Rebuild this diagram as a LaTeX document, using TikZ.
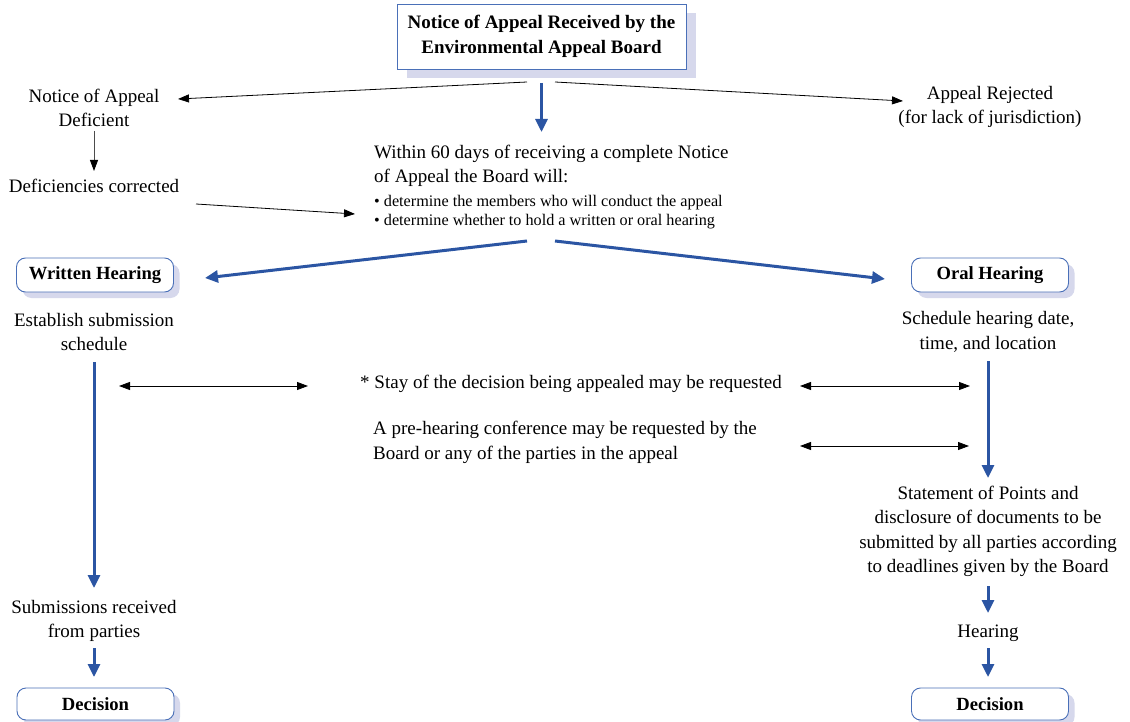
\documentclass[tikz,border=0pt]{standalone}
\usepackage{fontspec}
\setmainfont{Liberation Serif}
\usetikzlibrary{arrows.meta,shadows}
\definecolor{bblue}{HTML}{2B55A3}
\definecolor{bline}{HTML}{4A70B8}
\definecolor{shade}{HTML}{D6D8EC}
\begin{document}
\begin{tikzpicture}[x=1pt,y=-1pt,
  txt/.style={align=center,font=\fontsize{19}{24.4}\selectfont,inner sep=0pt},
  small/.style={align=left,font=\fontsize{16.2}{19}\selectfont,inner sep=0pt},
  bluearrow/.style={draw=bblue,line width=3pt,-{Triangle[length=13pt,width=12pt]}},
  thinarrow/.style={draw=black,line width=0.8pt,-{Triangle[length=11pt,width=8pt]}},
  greyarrow/.style={draw=black!70,line width=0.8pt,-{Triangle[length=11pt,width=8pt,color=black]}},
  dblarrow/.style={draw=black,line width=0.8pt,{Triangle[length=11pt,width=8pt]}-{Triangle[length=11pt,width=8pt]}},
  rbox/.style={draw=bline,line width=0.9pt,fill=white,rounded corners=9pt,minimum width=157pt,minimum height=34pt,inner sep=0pt,
    font=\bfseries\fontsize{18.6}{20}\selectfont,
    drop shadow={shadow xshift=6pt,shadow yshift=-6pt,fill=shade,opacity=1}},
  topbox/.style={draw=bline,line width=0.9pt,fill=white,minimum width=289pt,minimum height=65pt,inner sep=0pt,align=center,
    font=\bfseries\fontsize{19}{25}\selectfont,
    drop shadow={shadow xshift=10pt,shadow yshift=-9pt,fill=shade,opacity=1}}]
\useasboundingbox (0,0) rectangle (1130,722);
\fill[white] (0,0) rectangle (1130,722);

% nodes
\node[topbox] (top) at (541.5,36.5) {Notice of Appeal Received by the\\Environmental Appeal Board};
\node[txt] (def) at (94,108) {Notice of Appeal\\Deficient};
\node[txt] (rej) at (990,107) {Appeal Rejected\\(for lack of jurisdiction)};
\node[txt] (corr) at (94,186) {Deficiencies corrected};
\node[txt,align=left,anchor=west] (within) at (374,166) {Within 60 days of receiving a complete Notice\\of Appeal the Board will:};
\node[small,anchor=west] (bul) at (374,212.5) {\textbullet\ determine the members who will conduct the appeal\\\textbullet\ determine whether to hold a written or oral hearing};
\node[rbox] (wh) at (95,275) {Written Hearing};
\node[rbox] (oh) at (990,275) {Oral Hearing};
\node[txt] (est) at (94,332) {Establish submission\\schedule};
\node[txt] (sch) at (988,332) {Schedule hearing date,\\time, and location};
\node[txt] (stay) at (571,384) {* Stay of the decision being appealed may be requested};
\node[txt,align=left,anchor=west] (pre) at (373,442.5) {A pre-hearing conference may be requested by the\\Board or any of the parties in the appeal};
\node[txt] (stmt) at (988,531.5) {Statement of Points and\\disclosure of documents to be\\submitted by all parties according\\to deadlines given by the Board};
\node[txt] (hear) at (988,633) {Hearing};
\node[txt] (sub) at (94,621) {Submissions received\\from parties};
\node[rbox,minimum height=32pt] (decl) at (95.5,704) {Decision};
\node[rbox,minimum height=32pt] (decr) at (990,704) {Decision};

% connector end points
\coordinate (t1) at (527,82);
\coordinate (t2) at (555,82);
\coordinate (da) at (178,99);
\coordinate (ra) at (903,101);
\coordinate (c1) at (196,204);
\coordinate (c2) at (355,214);
\coordinate (b1) at (527,241);
\coordinate (b2) at (555,241);
\coordinate (wa) at (205,278);
\coordinate (oa) at (885,279);
\coordinate (s1) at (119,386);
\coordinate (s2) at (308,386);
\coordinate (s3) at (800,386);
\coordinate (s4) at (970,386);
\coordinate (p1) at (800,446);
\coordinate (p2) at (969,446);

% connectors
\draw[bluearrow] (top.south |- 0,83) -- (top.south |- 0,132);
\draw[thinarrow] (t1) -- (da);
\draw[thinarrow] (t2) -- (ra);
\draw[greyarrow] (def.south |- 0,131) -- (def.south |- 0,171);
\draw[thinarrow] (c1) -- (c2);
\draw[bluearrow] (b1) -- (wa);
\draw[bluearrow] (b2) -- (oa);
\draw[bluearrow] (est.south |- 0,362) -- (est.south |- 0,588);
\draw[bluearrow] (sch.south |- 0,361) -- (sch.south |- 0,478);
\draw[bluearrow] (stmt.south |- 0,586) -- (stmt.south |- 0,613);
\draw[bluearrow] (hear.south |- 0,648) -- (hear.south |- 0,677);
\draw[bluearrow] (sub.south |- 0,648) -- (sub.south |- 0,677);
\draw[dblarrow] (s1) -- (s2);
\draw[dblarrow] (s3) -- (s4);
\draw[dblarrow] (p1) -- (p2);
\end{tikzpicture}
\end{document}
